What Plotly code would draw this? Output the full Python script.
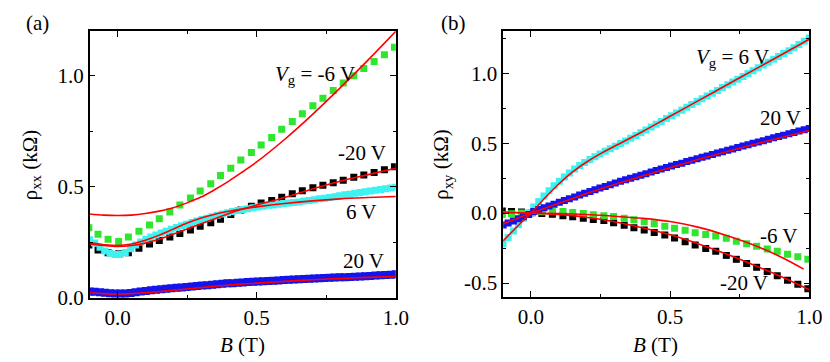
import plotly.graph_objects as go

# ---------------- data : panel (a)  rho_xx ----------------
B_sparse = [-0.103, -0.070, -0.034, 0.004, 0.039, 0.077, 0.115, 0.150, 0.188, 0.224, 0.262,
            0.297, 0.335, 0.370, 0.407, 0.443, 0.481, 0.516, 0.554, 0.590, 0.628, 0.664,
            0.702, 0.738, 0.775, 0.811, 0.849, 0.885, 0.922, 0.959, 0.995]
B_dense = [-0.100, -0.082, -0.063, -0.045, -0.027, -0.008, 0.010, 0.028, 0.047, 0.065, 0.083,
           0.102, 0.120, 0.138, 0.157, 0.175, 0.193, 0.212, 0.230, 0.248, 0.267, 0.285,
           0.303, 0.322, 0.340, 0.358, 0.377, 0.395, 0.413, 0.432, 0.450, 0.468, 0.487,
           0.505, 0.523, 0.542, 0.560, 0.578, 0.597, 0.615, 0.633, 0.652, 0.670, 0.688,
           0.707, 0.725, 0.743, 0.762, 0.780, 0.798, 0.817, 0.835, 0.853, 0.872, 0.890,
           0.908, 0.927, 0.945, 0.963, 0.982, 1.000]

rxx_m6 = [0.316, 0.287, 0.264, 0.254, 0.274, 0.300, 0.329, 0.357, 0.387, 0.419, 0.450,
          0.481, 0.514, 0.551, 0.584, 0.621, 0.655, 0.688, 0.722, 0.759, 0.794, 0.829,
          0.865, 0.899, 0.933, 0.967, 1.000, 1.032, 1.064, 1.094, 1.128]
rxx_m20 = [0.239, 0.216, 0.204, 0.199, 0.204, 0.224, 0.243, 0.259, 0.274, 0.290, 0.306,
           0.323, 0.339, 0.354, 0.376, 0.396, 0.413, 0.427, 0.439, 0.453, 0.469, 0.483,
           0.496, 0.507, 0.519, 0.530, 0.543, 0.553, 0.565, 0.577, 0.591]
rxx_p6 = [0.262, 0.247, 0.228, 0.212, 0.201, 0.196, 0.197, 0.205, 0.222, 0.239, 0.252,
          0.264, 0.274, 0.283, 0.292, 0.300, 0.309, 0.317, 0.325, 0.332, 0.340, 0.346,
          0.353, 0.359, 0.366, 0.372, 0.378, 0.384, 0.389, 0.394, 0.398, 0.402, 0.406,
          0.410, 0.413, 0.417, 0.419, 0.422, 0.425, 0.427, 0.430, 0.432, 0.436, 0.439,
          0.442, 0.446, 0.449, 0.452, 0.456, 0.460, 0.464, 0.467, 0.471, 0.475, 0.478,
          0.481, 0.485, 0.488, 0.491, 0.495, 0.498]
rxx_p20 = [0.030, 0.028, 0.026, 0.024, 0.022, 0.020, 0.020, 0.021, 0.023, 0.026, 0.029,
           0.032, 0.035, 0.037, 0.040, 0.042, 0.044, 0.046, 0.048, 0.050, 0.052, 0.054,
           0.056, 0.058, 0.060, 0.062, 0.064, 0.066, 0.067, 0.069, 0.070, 0.072, 0.073,
           0.074, 0.075, 0.077, 0.078, 0.079, 0.081, 0.082, 0.083, 0.085, 0.086, 0.087,
           0.088, 0.089, 0.090, 0.091, 0.092, 0.093, 0.094, 0.095, 0.096, 0.097, 0.098,
           0.099, 0.101, 0.102, 0.104, 0.105, 0.107]

B_fit_a = [-0.1, -0.05, 0.0, 0.05, 0.1, 0.15, 0.2, 0.25, 0.3, 0.35, 0.4, 0.45, 0.5,
           0.6, 0.7, 0.8, 0.9, 1.0]
fit_xx_m6 = [0.378, 0.373, 0.371, 0.373, 0.380, 0.391, 0.406, 0.428, 0.454, 0.488, 0.526,
             0.568, 0.612, 0.713, 0.825, 0.945, 1.070, 1.200]
fit_xx_m20 = [0.243, 0.236, 0.232, 0.236, 0.247, 0.264, 0.287, 0.311, 0.334, 0.357, 0.380,
              0.400, 0.418, 0.452, 0.490, 0.525, 0.555, 0.584]
fit_xx_p6 = [0.248, 0.240, 0.236, 0.243, 0.260, 0.283, 0.310, 0.337, 0.360, 0.377, 0.390,
             0.401, 0.410, 0.425, 0.437, 0.446, 0.452, 0.457]
fit_xx_p20 = [0.024, 0.020, 0.018, 0.020, 0.024, 0.029, 0.035, 0.041, 0.047, 0.053, 0.058,
              0.063, 0.067, 0.075, 0.082, 0.088, 0.093, 0.097]

# ---------------- data : panel (b)  rho_xy ----------------
rxy_m6 = [-0.010, -0.005, 0.000, 0.005, 0.010, 0.014, 0.011, 0.005, -0.003, -0.012, -0.018,
          -0.025, -0.037, -0.047, -0.062, -0.076, -0.094, -0.109, -0.122, -0.140, -0.153,
          -0.164, -0.180, -0.201, -0.219, -0.237, -0.256, -0.273, -0.294, -0.311, -0.330]
rxy_m20 = [0.016, 0.012, 0.008, 0.003, -0.002, -0.008, -0.018, -0.026, -0.036, -0.046, -0.053,
           -0.068, -0.087, -0.104, -0.121, -0.138, -0.157, -0.178, -0.204, -0.228, -0.252,
           -0.273, -0.302, -0.330, -0.360, -0.387, -0.417, -0.448, -0.479, -0.509, -0.540]
rxy_p6 = [-0.220, -0.175, -0.128, -0.083, -0.037, 0.002, 0.043, 0.083, 0.122, 0.160, 0.195,
          0.228, 0.258, 0.287, 0.315, 0.340, 0.362, 0.383, 0.403, 0.423, 0.442, 0.460,
          0.478, 0.497, 0.516, 0.535, 0.555, 0.575, 0.594, 0.615, 0.635, 0.655, 0.676,
          0.696, 0.716, 0.736, 0.756, 0.776, 0.797, 0.817, 0.837, 0.857, 0.877, 0.897,
          0.917, 0.937, 0.957, 0.977, 0.997, 1.017, 1.038, 1.058, 1.078, 1.099, 1.119,
          1.140, 1.161, 1.182, 1.205, 1.228, 1.252]
rxy_p20 = [-0.085, -0.071, -0.056, -0.041, -0.026, -0.010, 0.011, 0.025, 0.038, 0.051, 0.064,
           0.077, 0.090, 0.103, 0.116, 0.129, 0.142, 0.155, 0.167, 0.179, 0.191, 0.203,
           0.215, 0.227, 0.238, 0.249, 0.260, 0.271, 0.282, 0.293, 0.304, 0.315, 0.326,
           0.336, 0.347, 0.357, 0.368, 0.378, 0.389, 0.399, 0.409, 0.419, 0.429, 0.439,
           0.449, 0.459, 0.469, 0.479, 0.489, 0.499, 0.509, 0.518, 0.528, 0.538, 0.548,
           0.557, 0.567, 0.577, 0.586, 0.596, 0.605]

B_fit_b = [-0.1, -0.05, 0.0, 0.05, 0.1, 0.15, 0.2, 0.25, 0.3, 0.4, 0.5, 0.6, 0.7, 0.8, 0.9, 1.0]
B_fit_b_m6 = [-0.1, -0.05, 0.0, 0.05, 0.1, 0.15, 0.2, 0.25, 0.3, 0.4, 0.5, 0.6, 0.7, 0.8, 0.9, 0.98]
fit_xy_p6 = [-0.198, -0.097, 0.0, 0.108, 0.208, 0.295, 0.365, 0.425, 0.478, 0.582, 0.692,
             0.802, 0.912, 1.022, 1.132, 1.243]
fit_xy_p20 = [-0.076, -0.038, 0.0, 0.035, 0.070, 0.105, 0.140, 0.173, 0.205, 0.265, 0.325,
              0.383, 0.437, 0.490, 0.540, 0.590]
fit_xy_m6 = [0.005, 0.003, 0.0, -0.001, -0.003, -0.006, -0.010, -0.015, -0.022, -0.037,
             -0.060, -0.100, -0.158, -0.228, -0.315, -0.400]
fit_xy_m20 = [0.006, 0.004, 0.0, -0.004, -0.010, -0.018, -0.030, -0.044, -0.062, -0.105,
              -0.155, -0.218, -0.290, -0.370, -0.455, -0.548]

GREEN = "#2ee62e"
CYAN = "#3ff2f2"
BLUE = "#1414ee"
BLACK = "#000000"
RED = "#ff0000"
FONT = "'Liberation Serif', 'Times New Roman', Times, serif"

fig = go.Figure()


def markers(x, y, color, size, xa, ya):
    fig.add_trace(go.Scatter(x=x, y=y, mode="markers", xaxis=xa, yaxis=ya,
                             marker=dict(symbol="square", size=size, color=color,
                                         line=dict(width=0)),
                             showlegend=False, hoverinfo="skip"))


def fitline(x, y, xa, ya):
    fig.add_trace(go.Scatter(x=x, y=y, mode="lines", xaxis=xa, yaxis=ya,
                             line=dict(color=RED, width=1.6, shape="spline"),
                             showlegend=False, hoverinfo="skip"))


# panel (a)
markers(B_dense, rxx_p20, BLUE, 8, "x", "y")
markers(B_sparse, rxx_m20, BLACK, 7, "x", "y")
markers(B_dense, rxx_p6, CYAN, 7, "x", "y")
markers(B_sparse, rxx_m6, GREEN, 7, "x", "y")
fitline(B_fit_a, fit_xx_m6, "x", "y")
fitline(B_fit_a, fit_xx_m20, "x", "y")
fitline(B_fit_a, fit_xx_p6, "x", "y")
fitline(B_fit_a, fit_xx_p20, "x", "y")

# panel (b)
markers(B_sparse, rxy_m20, BLACK, 7, "x2", "y2")
markers(B_sparse, rxy_m6, GREEN, 7, "x2", "y2")
markers(B_dense, rxy_p6, CYAN, 7, "x2", "y2")
markers(B_dense, rxy_p20, BLUE, 7, "x2", "y2")
fitline(B_fit_b, fit_xy_p6, "x2", "y2")
fitline(B_fit_b, fit_xy_p20, "x2", "y2")
fitline(B_fit_b_m6, fit_xy_m6, "x2", "y2")
fitline(B_fit_b, fit_xy_m20, "x2", "y2")

W, H = 830, 362
tickfont = dict(family=FONT, size=21, color="black")
common = dict(showline=True, linecolor="black", linewidth=1.5, mirror="ticks",
              ticks="inside", ticklen=6, tickwidth=1.3, tickcolor="black",
              showgrid=False, zeroline=False, tickfont=tickfont,
              minor=dict(ticks="inside", ticklen=3.5, tickwidth=1.1, tickcolor="black",
                         dtick=0.25, showgrid=False))

xt_vals = [0.0, 0.5, 1.0]
xt_text = ["0.0", "0.5", "1.0"]
fig.update_layout(
    width=W, height=H, margin=dict(l=0, r=0, t=0, b=0),
    plot_bgcolor="white", paper_bgcolor="white",
    font=dict(family=FONT, size=21, color="black"),
    xaxis=dict(domain=[83 / W, 394 / W], range=[-0.1, 1.0], anchor="y",
               tickvals=xt_vals, ticktext=xt_text, **common),
    yaxis=dict(domain=[1 - 300 / H, 1 - 24 / H], range=[0.0, 1.2], anchor="x",
               tickvals=[0.0, 0.5, 1.0], ticktext=["0.0", "0.5", "1.0"], **common),
    xaxis2=dict(domain=[503 / W, 814 / W], range=[-0.1, 1.0], anchor="y2",
                tickvals=xt_vals, ticktext=xt_text, **common),
    yaxis2=dict(domain=[1 - 299 / H, 1 - 24 / H], range=[-0.6, 1.3], anchor="x2",
                tickvals=[-0.5, 0.0, 0.5, 1.0], ticktext=["-0.5", "0.0", "0.5", "1.0"],
                **common),
)

af = dict(family=FONT, size=21, color="black")
ann = [
    # panel letters
    dict(text="(a)", x=30 / W, y=1 - 16 / H, xref="paper", yref="paper"),
    dict(text="(b)", x=453 / W, y=1 - 16 / H, xref="paper", yref="paper"),
    # axis titles
    dict(text="<i>B</i> (T)", x=238.5 / W, y=1 - 349 / H, xref="paper", yref="paper"),
    dict(text="<i>B</i> (T)", x=658 / W, y=1 - 349 / H, xref="paper", yref="paper"),
    dict(text="ρ<sub>xx</sub> (kΩ)", x=23 / W, y=1 - 162 / H, xref="paper", yref="paper",
         textangle=-90),
    dict(text="ρ<sub>xy</sub> (kΩ)", x=441 / W, y=1 - 162 / H, xref="paper", yref="paper",
         textangle=-90),
    # curve labels (a)
    dict(text="<i>V</i><sub>g</sub> = -6 V", x=0.558, y=1.005, xref="x", yref="y",
         xanchor="left"),
    dict(text="-20 V", x=0.973, y=0.652, xref="x", yref="y", xanchor="right"),
    dict(text="6 V", x=0.941, y=0.387, xref="x", yref="y", xanchor="right"),
    dict(text="20 V", x=0.966, y=0.165, xref="x", yref="y", xanchor="right"),
    # curve labels (b)
    dict(text="<i>V</i><sub>g</sub> = 6 V", x=0.587, y=1.105, xref="x2", yref="y2",
         xanchor="left"),
    dict(text="20 V", x=0.978, y=0.679, xref="x2", yref="y2", xanchor="right"),
    dict(text="-6 V", x=0.967, y=-0.164, xref="x2", yref="y2", xanchor="right"),
    dict(text="-20 V", x=0.86, y=-0.502, xref="x2", yref="y2", xanchor="right"),
]
for a in ann:
    a.setdefault("xanchor", "center")
    a["yanchor"] = "middle"
    a["showarrow"] = False
    a["font"] = af
fig.update_layout(annotations=ann)

fig.write_html("out.html")
